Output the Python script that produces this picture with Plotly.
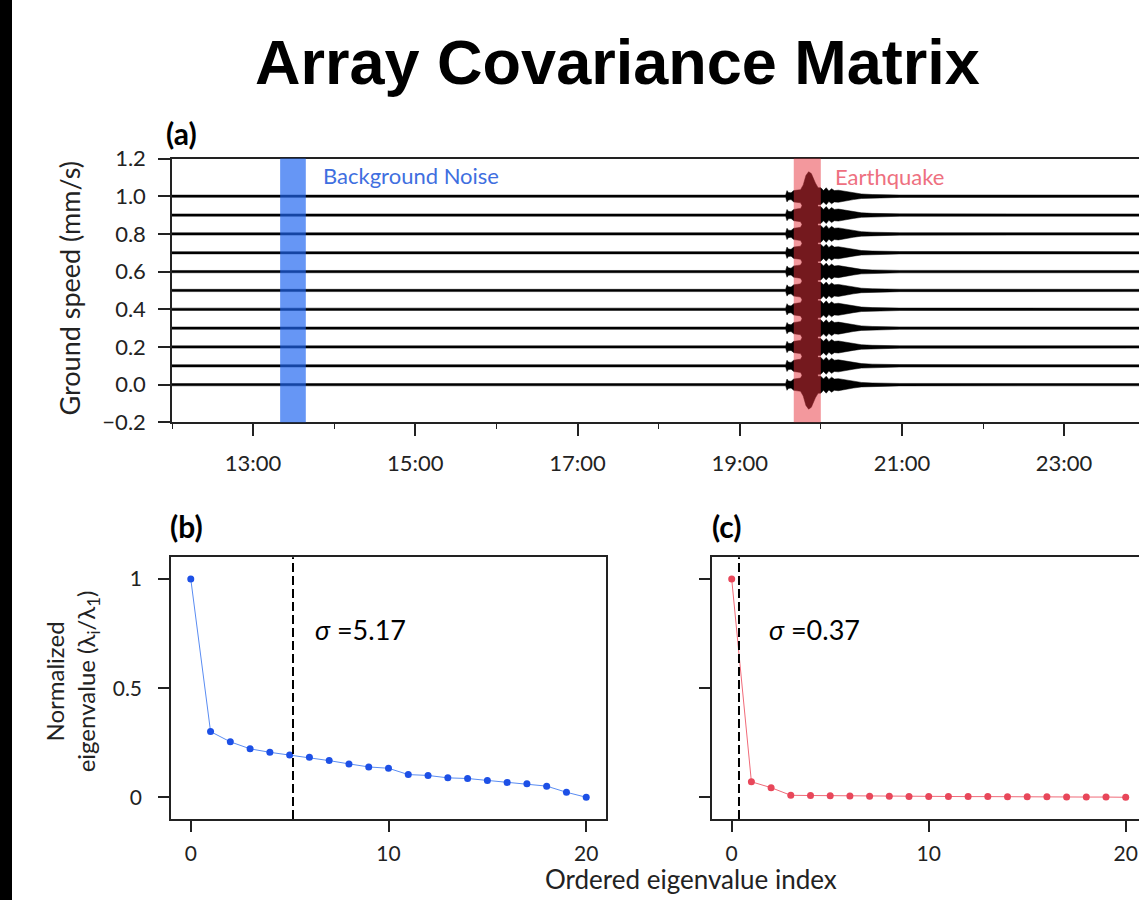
import plotly.graph_objects as go

# ---------------- data ----------------
# panel (a): station trace offsets (mm/s)
station_offsets = [0.0, 0.1, 0.2, 0.3, 0.4, 0.5, 0.6, 0.7, 0.8, 0.9, 1.0]
# amplitude envelope of each trace
env_times = ["12:00", "19:34", "19:35", "19:36", "19:38", "19:40", "19:43", "19:45",
             "19:47", "19:49", "19:51", "19:53", "19:56", "19:58", "20:00", "20:02",
             "20:04", "20:06", "20:08", "20:10", "20:13", "20:18", "20:24", "20:30",
             "20:38", "20:58", "23:59"]
env_amp = [0.006, 0.006, 0.030, 0.020, 0.018, 0.030, 0.033, 0.035,
           0.060, 0.110, 0.130, 0.120, 0.070, 0.045, 0.045, 0.030,
           0.045, 0.028, 0.040, 0.030, 0.032, 0.025, 0.018, 0.012,
           0.009, 0.0065, 0.006]
noise_window = ["13:20", "13:39"]
quake_window = ["19:40", "20:00"]
time_ticks = ["13:00", "15:00", "17:00", "19:00", "21:00", "23:00"]
speed_ticks = [-0.2, 0.0, 0.2, 0.4, 0.6, 0.8, 1.0, 1.2]

# panels (b), (c): normalized eigenvalues
eig_index = list(range(21))
eig_noise = [1.0, 0.301, 0.254, 0.222, 0.206, 0.194, 0.183, 0.168, 0.153, 0.139, 0.133,
             0.104, 0.100, 0.089, 0.086, 0.077, 0.068, 0.062, 0.051, 0.023, 0.0]
eig_quake = [1.0, 0.071, 0.044, 0.009, 0.008, 0.007, 0.006, 0.005, 0.005, 0.004, 0.004,
             0.003, 0.003, 0.003, 0.002, 0.002, 0.002, 0.001, 0.001, 0.001, 0.0]
sigma_noise = 5.17
sigma_quake = 0.37
eig_ticks = [0, 10, 20]
norm_ticks = [0, 0.5, 1]


def hrs(s):
    h, m = s.split(":")
    return int(h) + int(m) / 60.0


W, H = 1139, 900
px = lambda v: v / W
py = lambda v: 1 - v / H

FONT = "Lato"
AX = "#222222"

fig = go.Figure()

# ---- panel (a) traces: envelope polygons
t = [hrs(s) for s in env_times]
for off in station_offsets:
    upper = [off + a for a in env_amp]
    lower = [off - a for a in env_amp]
    fig.add_trace(go.Scatter(
        x=t + t[::-1], y=upper + lower[::-1],
        mode="lines", fill="toself", fillcolor="black",
        line=dict(color="black", width=0.5),
        xaxis="x", yaxis="y", showlegend=False, hoverinfo="skip"))

# ---- panel (b)
fig.add_trace(go.Scatter(
    x=eig_index, y=eig_noise, mode="lines+markers",
    line=dict(color="#5a8cf2", width=1),
    marker=dict(color="#1d50e6", size=7),
    xaxis="x2", yaxis="y2", showlegend=False))

# ---- panel (c)
fig.add_trace(go.Scatter(
    x=eig_index, y=eig_quake, mode="lines+markers",
    line=dict(color="#f06a78", width=1),
    marker=dict(color="#e8475a", size=7),
    xaxis="x3", yaxis="y3", showlegend=False))

shapes = [
    # black strip at left edge
    dict(type="rect", xref="paper", yref="paper", x0=0, x1=px(12), y0=-0.05, y1=1.05,
         fillcolor="black", line=dict(width=0), layer="above"),
    # background noise window
    dict(type="rect", xref="x", yref="y domain", x0=hrs(noise_window[0]), x1=hrs(noise_window[1]),
         y0=0, y1=1, fillcolor="rgba(30,100,240,0.68)", line=dict(width=0), layer="above"),
    # earthquake window
    dict(type="rect", xref="x", yref="y domain", x0=hrs(quake_window[0]), x1=hrs(quake_window[1]),
         y0=0, y1=1, fillcolor="rgba(232,50,60,0.5)", line=dict(width=0), layer="above"),
    # sigma lines
    dict(type="line", xref="x2", yref="y2 domain", x0=sigma_noise, x1=sigma_noise, y0=0, y1=1,
         line=dict(color="black", width=2, dash="9px,4px")),
    dict(type="line", xref="x3", yref="y3 domain", x0=sigma_quake, x1=sigma_quake, y0=0, y1=1,
         line=dict(color="black", width=2, dash="9px,4px")),
]

annotations = [
    dict(text="<b>Array Covariance Matrix</b>", xref="paper", yref="paper", x=px(617), y=py(49),
         showarrow=False, font=dict(family="Liberation Sans, Arial", size=63, color="black"),
         xanchor="center", yanchor="middle"),
    dict(text="<b>(a)</b>", xref="paper", yref="paper", x=px(164), y=py(123),
         showarrow=False, font=dict(family=FONT, size=30, color="black"), xanchor="left", yanchor="middle"),
    dict(text="<b>(b)</b>", xref="paper", yref="paper", x=px(168), y=py(528),
         showarrow=False, font=dict(family=FONT, size=30, color="black"), xanchor="left", yanchor="middle"),
    dict(text="<b>(c)</b>", xref="paper", yref="paper", x=px(710), y=py(528),
         showarrow=False, font=dict(family=FONT, size=30, color="black"), xanchor="left", yanchor="middle"),
    dict(text="Background Noise", xref="x", yref="paper", x=hrs(noise_window[1]) + 0.19, y=py(167),
         showarrow=False, font=dict(family=FONT, size=22, color="#3f6fe0"), xanchor="left", yanchor="middle"),
    dict(text="Earthquake", xref="x", yref="paper", x=hrs(quake_window[1]) + 0.15, y=py(168),
         showarrow=False, font=dict(family=FONT, size=22, color="#ee7080"), xanchor="left", yanchor="middle"),
    dict(text="Ground speed (mm/s)", xref="paper", yref="paper", x=px(70), y=py(283), textangle=-90,
         showarrow=False, font=dict(family=FONT, size=27, color="#222"), xanchor="center", yanchor="middle"),
    dict(text="Normalized<br>eigenvalue (λ<sub>i</sub>/λ<sub>1</sub>)", xref="paper", yref="paper",
         x=px(72), y=py(688), textangle=-90,
         showarrow=False, font=dict(family=FONT, size=24, color="#222"), xanchor="center", yanchor="middle"),
    dict(text="Ordered eigenvalue index", xref="paper", yref="paper", x=px(691), y=py(892),
         showarrow=False, font=dict(family=FONT, size=26, color="#222"), xanchor="center", yanchor="middle"),
    dict(text="<i>σ</i> =5.17", xref="x2", yref="y2", x=sigma_noise + 1.0, y=0.77,
         showarrow=False, font=dict(family=FONT, size=27, color="black"), xanchor="left", yanchor="middle"),
    dict(text="<i>σ</i> =0.37", xref="x3", yref="y3", x=sigma_quake + 1.4, y=0.77,
         showarrow=False, font=dict(family=FONT, size=27, color="black"), xanchor="left", yanchor="middle"),
]

tickfont_a = dict(family=FONT, size=22, color="#222")
tickfont_b = dict(family=FONT, size=21, color="#222")

fig.update_layout(
    width=W, height=H, margin=dict(l=0, r=0, t=0, b=0),
    paper_bgcolor="white", plot_bgcolor="white", showlegend=False,
    shapes=shapes, annotations=annotations,
    xaxis=dict(domain=[px(172), 1.0], range=[12.0, 12 + (W - 172) / 81.1],
               tickvals=[hrs(s) for s in time_ticks], ticktext=time_ticks,
               ticks="outside", ticklen=12, tickwidth=1.5, tickcolor=AX,
               minor=dict(dtick=1, tick0=0, ticks="outside", ticklen=5, tickwidth=1.2, tickcolor=AX),
               showline=True, linecolor=AX, linewidth=1.5, mirror=True,
               showgrid=False, zeroline=False, tickfont=tickfont_a, ticklabelstandoff=8,
               anchor="y"),
    yaxis=dict(domain=[py(421), py(149)], range=[-0.2, 1.2],
               tickvals=speed_ticks, tickformat=".1f",
               ticks="outside", ticklen=12, tickwidth=1.5, tickcolor=AX,
               showline=True, linecolor=AX, linewidth=1.5, mirror=False,
               showgrid=False, zeroline=False, tickfont=tickfont_a, ticklabelstandoff=8,
               anchor="x"),
    xaxis2=dict(domain=[px(171), px(606)], range=[-1, 21], tickvals=eig_ticks,
                ticks="outside", ticklen=11, tickwidth=1.5, tickcolor=AX,
                showline=True, linecolor=AX, linewidth=1.5, mirror=True,
                showgrid=False, zeroline=False, tickfont=tickfont_b, ticklabelstandoff=4,
                anchor="y2"),
    yaxis2=dict(domain=[py(830), py(560)], range=[-0.1, 1.1], tickvals=norm_ticks,
                ticks="outside", ticklen=11, tickwidth=1.5, tickcolor=AX,
                showline=True, linecolor=AX, linewidth=1.5, mirror=True,
                showgrid=False, zeroline=False, tickfont=tickfont_b, ticklabelstandoff=12,
                anchor="x2"),
    xaxis3=dict(domain=[px(712), 1.0], range=[-1, -1 + (W - 712) / 19.7], tickvals=eig_ticks,
                ticks="outside", ticklen=11, tickwidth=1.5, tickcolor=AX,
                showline=True, linecolor=AX, linewidth=1.5, mirror=True,
                showgrid=False, zeroline=False, tickfont=tickfont_b, ticklabelstandoff=4,
                anchor="y3"),
    yaxis3=dict(domain=[py(830), py(560)], range=[-0.1, 1.1], tickvals=norm_ticks,
                showticklabels=False,
                ticks="outside", ticklen=11, tickwidth=1.5, tickcolor=AX,
                showline=True, linecolor=AX, linewidth=1.5, mirror=False,
                showgrid=False, zeroline=False,
                anchor="x3"),
)

fig.write_html("out.html", config={"displayModeBar": False},
               post_script="document.body.style.margin='0';document.body.style.overflow='hidden';")
